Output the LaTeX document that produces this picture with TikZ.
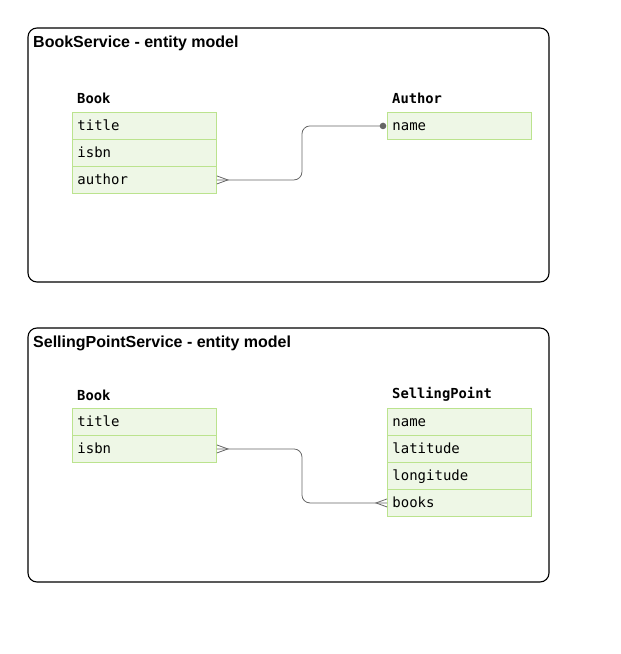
\documentclass[tikz,border=0pt]{standalone}
\usepackage{fontspec}
\setmainfont{Liberation Sans}
\setmonofont{DejaVu Sans Mono}
\usetikzlibrary{calc,positioning}

\begin{document}
\begin{tikzpicture}[x=1pt, y=1pt]

  % Define colors
  \definecolor{fieldfill}{HTML}{EEF7E6}
  \definecolor{fieldline}{HTML}{BBE38E}
  \definecolor{linkgray}{HTML}{666666}

  \tikzset{
    frame/.style={draw=black, line width=1.1pt, rounded corners=9pt},
    frametitle/.style={anchor=base west, inner sep=0pt, font=\fontsize{16}{19}\selectfont\bfseries},
    entname/.style={anchor=base west, inner sep=0pt, font=\fontsize{13.8}{16}\selectfont\ttfamily\bfseries},
    field/.style={draw=fieldline, fill=fieldfill, line width=0.9pt, anchor=north west,
      text width=134pt, align=left, inner xsep=5pt, inner ysep=0pt, minimum height=27pt,
      text height=11pt, text depth=1.6pt,
      font=\fontsize{14}{16}\selectfont\ttfamily},
    link/.style={draw=linkgray, line width=0.8pt},
  }

  \useasboundingbox (0,0) rectangle (621,654);

  % ---------- BookService ----------
  \draw[frame] (28,372) rectangle (549,626);
  \node[frametitle] (t1) at (33,606) {BookService - entity model};

  \foreach \f [count=\i from 0] in {title,isbn,author}
    \node[field] (b1\f) at (72,542-27*\i) {\f};
  \node[field] (aname) at (387,542) {name};

  \node[entname] (book1) at ($(b1title.north west)+(5,8)$) {Book};
  \node[entname] (author) at ($(aname.north west)+(5,8)$) {Author};

  % author -> name
  \draw[link, rounded corners=8pt] (b1author.east)
    -| ($(b1author.east)!.5!(aname.west)$) |- ($(aname.west)+(-4,0)$);
  \draw[link] ($(b1author.east)+(0,4)$) -- ++(11,-4) -- ($(b1author.east)+(0,-4)$);
  \fill[linkgray] ($(aname.west)+(-4,0)$) circle (3.3);

  % ---------- SellingPointService ----------
  \draw[frame] (28,72) rectangle (549,326);
  \node[frametitle] (t2) at (33,306) {SellingPointService - entity model};

  \foreach \f [count=\i from 0] in {title,isbn}
    \node[field] (b2\f) at (72,246-27*\i) {\f};
  \foreach \f [count=\i from 0] in {name,latitude,longitude,books}
    \node[field] (sp\f) at (387,246-27*\i) {\f};

  \node[entname] (book2) at ($(b2title.north west)+(5,7)$) {Book};
  \node[entname] (sellingpoint) at ($(spname.north west)+(5,9)$) {SellingPoint};

  % isbn -> books
  \draw[link, rounded corners=8pt] (b2isbn.east)
    -| ($(b2isbn.east)!.5!(spbooks.west)$) |- (spbooks.west);
  \draw[link] ($(b2isbn.east)+(0,4)$) -- ++(11,-4) -- ($(b2isbn.east)+(0,-4)$);
  \draw[link] ($(spbooks.west)+(0,4)$) -- ++(-11,-4) -- ($(spbooks.west)+(0,-4)$);

\end{tikzpicture}
\end{document}
